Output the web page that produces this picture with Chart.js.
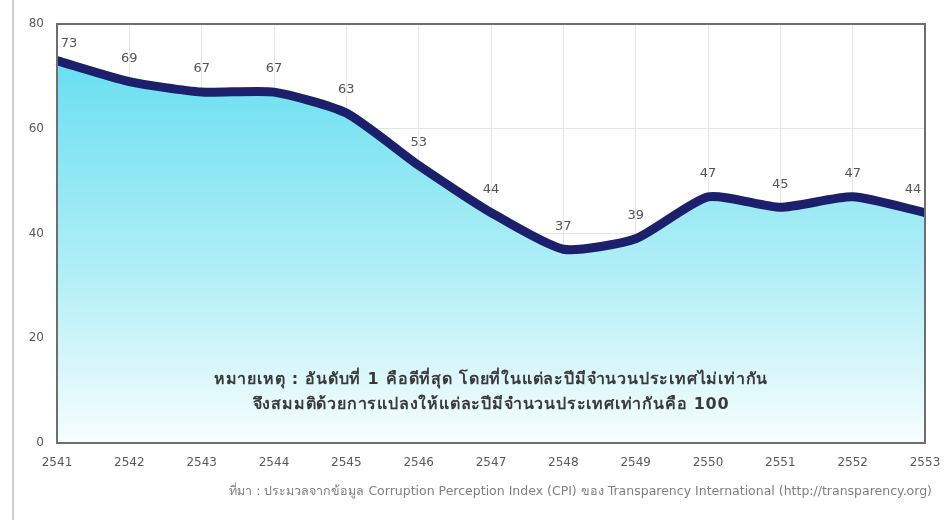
<!DOCTYPE html>
<html>
<head>
<meta charset="utf-8">
<script src="https://cdn.jsdelivr.net/npm/chart.js@4.4.1/dist/chart.umd.min.js"></script>
<style>
  html, body { margin: 0; padding: 0; background: #fff; }
  #wrap { width: 945px; height: 520px; position: relative; }
</style>
</head>
<body>
<div id="wrap"><canvas id="chart" width="945" height="520"></canvas></div>
<script>
// Thai years (B.E.) and CPI-based rank values (normalised to 100 countries)
const years = ['2541', '2542', '2543', '2544', '2545', '2546', '2547', '2548', '2549', '2550', '2551', '2552', '2553'];
const rankValues = [73, 69, 67, 67, 63, 53, 44, 37, 39, 47, 45, 47, 44];
const yTicks = [0, 20, 40, 60, 80];

const noteLines = [
  'หมายเหตุ : อันดับที่ 1 คือดีที่สุด โดยที่ในแต่ละปีมีจำนวนประเทศไม่เท่ากัน',
  'จึงสมมติด้วยการแปลงให้แต่ละปีมีจำนวนประเทศเท่ากันคือ 100'
];
const sourceText = 'ที่มา : ประมวลจากข้อมูล Corruption Perception Index (CPI) ของ Transparency International (http://transparency.org)';

const FONT = '"DejaVu Sans", "Noto Sans", sans-serif';

function fillGradient(context) {
  const chart = context.chart;
  const area = chart.chartArea;
  if (!area) return 'rgba(100, 220, 240, 0.6)';
  const g = chart.ctx.createLinearGradient(0, area.top + 30, 0, area.bottom);
  g.addColorStop(0, '#66def0');
  g.addColorStop(0.55, '#b0eef6');
  g.addColorStop(1, '#f7fdfe');
  return g;
}

// border, labels and notes
const decorPlugin = {
  id: 'decor',
  beforeDraw(chart) {
    const ctx = chart.ctx;
    ctx.save();
    ctx.fillStyle = '#fff';
    ctx.fillRect(0, 0, chart.width, chart.height);
    // page edge line on the left
    ctx.strokeStyle = '#d0d0d0';
    ctx.lineWidth = 2;
    ctx.beginPath();
    ctx.moveTo(13, 0);
    ctx.lineTo(13, chart.height);
    ctx.stroke();
    ctx.restore();
  },
  afterDatasetsDraw(chart) {
    const ctx = chart.ctx;
    const area = chart.chartArea;
    ctx.save();
    // plot frame
    ctx.strokeStyle = '#6e6e6e';
    ctx.lineWidth = 2;
    ctx.strokeRect(area.left, area.top, area.right - area.left, area.bottom - area.top);

    // value labels
    const meta = chart.getDatasetMeta(0);
    ctx.fillStyle = '#555';
    ctx.font = '13px ' + FONT;
    ctx.textAlign = 'center';
    ctx.textBaseline = 'middle';
    meta.data.forEach((pt, i) => {
      let x = pt.x;
      x = Math.max(area.left + 12, Math.min(area.right - 12, x));
      ctx.fillText(String(rankValues[i]), x, Math.max(area.top + 20, pt.y - 23));
    });

    // note
    ctx.fillStyle = '#3a3a3a';
    ctx.font = 'bold 16px ' + FONT;
    ctx.letterSpacing = '0.8px';
    const cx = (area.left + area.right) / 2;
    ctx.fillText(noteLines[0], cx, 380);
    ctx.fillText(noteLines[1], cx, 405);

    // source
    ctx.letterSpacing = '0px';
    ctx.fillStyle = '#808080';
    ctx.font = '12.5px ' + FONT;
    ctx.textAlign = 'right';
    ctx.fillText(sourceText, 932, 492);
    ctx.restore();
  }
};

new Chart(document.getElementById('chart'), {
  type: 'line',
  data: {
    labels: years,
    datasets: [{
      data: rankValues,
      borderColor: '#1c1f6c',
      borderWidth: 9,
      backgroundColor: fillGradient,
      fill: 'origin',
      tension: 0.2,
      pointRadius: 0,
      borderCapStyle: 'butt',
      borderJoinStyle: 'round'
    }]
  },
  options: {
    responsive: false,
    animation: false,
    layout: { padding: { top: 24, right: 20, left: 0, bottom: 0 } },
    plugins: {
      legend: { display: false },
      tooltip: { enabled: false },
      title: { display: false }
    },
    scales: {
      x: {
        offset: false,
        grid: { color: '#e2e6e8', lineWidth: 1, drawTicks: false },
        border: { display: false },
        ticks: {
          color: '#5a5a5a',
          font: { size: 12, family: FONT },
          padding: 13,
          maxRotation: 0,
          autoSkip: false
        },
        afterFit(scale) {
          scale.height = 77;
          scale.paddingLeft = 0;
          scale.paddingRight = 0;
        }
      },
      y: {
        min: 0,
        max: 80,
        afterBuildTicks(scale) { scale.ticks = yTicks.map(v => ({ value: v })); },
        grid: { color: '#e2e6e8', lineWidth: 1, drawTicks: false },
        border: { display: false },
        ticks: {
          color: '#5a5a5a',
          font: { size: 12, family: FONT },
          padding: 13
        },
        afterFit(scale) {
          scale.width = 57;
          scale.paddingTop = 0;
          scale.paddingBottom = 0;
        }
      }
    }
  },
  plugins: [decorPlugin]
});
</script>
</body>
</html>
